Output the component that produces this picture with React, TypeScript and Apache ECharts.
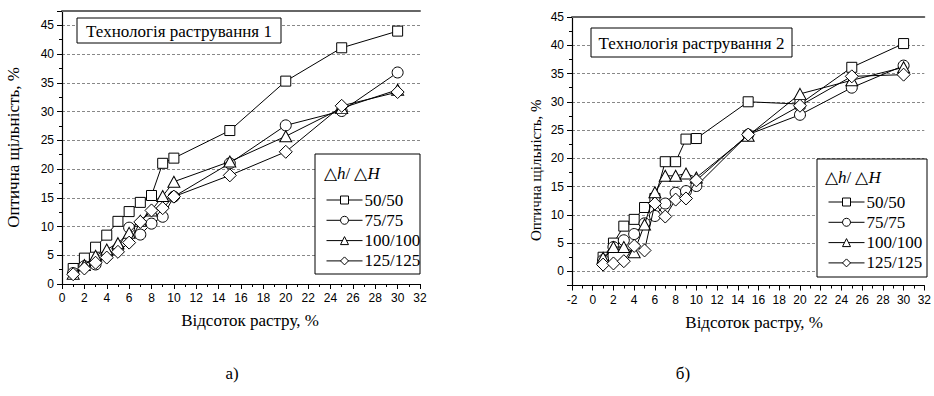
import React, { useEffect, useRef } from "react";
import * as echarts from "echarts";

const xValues = [1, 2, 3, 4, 5, 6, 7, 8, 9, 10, 15, 20, 25, 30];
const seriesNames = ["50/50", "75/75", "100/100", "125/125"];

const left50 = [2.7, 4.5, 6.4, 8.5, 10.9, 12.6, 14.2, 15.4, 21.0, 21.9, 26.7, 35.3, 41.1, 44.0];
const left75 = [1.9, 3.1, 3.4, 5.0, 6.2, 9.8, 8.6, 10.5, 11.7, 15.2, 21.0, 27.6, 30.1, 36.8];
const left100 = [1.8, 3.3, 4.9, 6.0, 7.1, 8.9, 11.0, 12.8, 15.3, 17.8, 21.3, 25.7, 30.6, 33.8];
const left125 = [1.7, 2.7, 3.7, 4.6, 5.6, 7.2, 10.8, 12.8, 13.2, 15.2, 18.9, 23.0, 31.0, 33.4];

const right50 = [2.5, 5.0, 8.0, 9.2, 11.3, 12.9, 19.4, 19.4, 23.4, 23.5, 30.0, 29.6, 36.1, 40.3];
const right75 = [2.0, 4.3, 5.5, 6.6, 8.5, 9.8, 12.0, 13.9, 14.2, 15.1, 24.2, 27.7, 32.5, 36.4];
const right100 = [2.4, 4.3, 4.3, 3.4, 8.3, 14.0, 16.9, 16.9, 17.3, 16.6, 24.0, 31.4, 33.8, 36.1];
const right125 = [1.2, 1.4, 1.8, 4.5, 3.7, 12.0, 9.7, 12.7, 12.9, 16.1, 24.2, 29.3, 34.5, 34.8];

const leftTitle = "Технологія растрування 1";
const rightTitle = "Технологія растрування 2";
const yName = "Оптична щільність, %";
const xName = "Відсоток растру, %";
const subLabels = ["а)", "б)"];

const symbols = ["rect", "circle", "triangle", "diamond"];
const symbolSizes: any[] = [10, 11, [12, 11], 13];

const SERIF = "Liberation Serif";
const SANS = "Liberation Sans";

function buildSeries(values: number[][], axisIndex: number) {
  return values.map((vals, i) => ({
    name: seriesNames[i],
    type: "line",
    xAxisIndex: axisIndex,
    yAxisIndex: axisIndex,
    data: vals.map((v, j) => [xValues[j], v]),
    symbol: symbols[i],
    symbolSize: symbolSizes[i],
    showAllSymbol: true,
    lineStyle: { color: "#000", width: 1 },
    itemStyle: { color: "#fff", borderColor: "#000", borderWidth: 1 },
    emphasis: { disabled: true },
    z: 2 + i * 0.1,
  }));
}

const axisLabelStyle = { fontFamily: SANS, fontSize: 12, color: "#000" };
const axisLine = { show: true, onZero: false, lineStyle: { color: "#000", width: 1.2 } };
const axisTick = { show: true, length: 5, lineStyle: { color: "#000", width: 1 } };
const minorTick = { show: true, splitNumber: 2, length: 3, lineStyle: { color: "#000", width: 1 } };
const dashed = { show: true, lineStyle: { color: "#888", type: [3, 2], width: 1 } };
const topLine = { show: true, onZero: false, lineStyle: { color: "#666", width: 2 } };

function legendGraphics(x: number, y: number, w: number, h: number, hx: number, hy: number) {
  return [
    {
      type: "rect",
      shape: { x, y, width: w, height: h },
      style: { fill: "#fff", stroke: "#000", lineWidth: 1 },
      z: 3,
    },
    {
      type: "text",
      x: hx,
      y: hy,
      z: 4,
      style: {
        text: "{n|△}{i|h}{n|/ △}{i|H}",
        verticalAlign: "middle",
        rich: {
          n: { fontFamily: SERIF, fontSize: 17, fill: "#000" },
          i: { fontFamily: SERIF, fontSize: 17, fontStyle: "italic", fill: "#000" },
        },
      },
    },
  ];
}

function titleGraphics(x: number, y: number, w: number, h: number, text: string) {
  return [
    {
      type: "rect",
      shape: { x, y, width: w, height: h },
      style: { fill: "#fff", stroke: "#000", lineWidth: 1 },
      z: 3,
    },
    {
      type: "text",
      x: x + w / 2,
      y: y + h / 2 + 1,
      z: 4,
      style: {
        text,
        fontFamily: SERIF,
        fontSize: 17,
        fill: "#000",
        align: "center",
        verticalAlign: "middle",
      },
    },
  ];
}

const legendCommon = {
  orient: "vertical",
  data: seriesNames,
  itemWidth: 36,
  itemHeight: 10,
  itemGap: 3.3,
  selectedMode: false,
  itemStyle: { color: "#fff", borderColor: "#000", borderWidth: 1 },
  lineStyle: { color: "#000", width: 1 },
  textStyle: { fontFamily: SERIF, fontSize: 17, lineHeight: 17, color: "#000", padding: [0, 0, 0, -3] },
  z: 5,
};

const option: any = {
  animation: false,
  backgroundColor: "#fff",
  grid: [
    { left: 62, top: 11, width: 358, height: 273 },
    { left: 572, top: 17, width: 355, height: 268.5 },
  ],
  xAxis: [
    {
      gridIndex: 0,
      type: "value",
      min: 0,
      max: 32,
      interval: 2,
      axisLine,
      axisTick,
      minorTick,
      splitLine: { show: false },
      axisLabel: { ...axisLabelStyle, margin: 8 },
      name: xName,
      nameLocation: "middle",
      nameGap: 28,
      nameTextStyle: { fontFamily: SERIF, fontSize: 17, color: "#000", padding: [0, 0, 0, 18] },
    },
    {
      gridIndex: 1,
      type: "value",
      min: -2,
      max: 32,
      interval: 2,
      axisLine,
      axisTick,
      minorTick,
      splitLine: { show: false },
      axisLabel: { ...axisLabelStyle, margin: 8 },
      name: xName,
      nameLocation: "middle",
      nameGap: 28,
      nameTextStyle: { fontFamily: SERIF, fontSize: 17, color: "#000", padding: [0, 0, 0, 12] },
    },
    {
      gridIndex: 0,
      type: "value",
      position: "top",
      min: 0,
      max: 32,
      axisLine: topLine,
      axisTick: { show: false },
      axisLabel: { show: false },
      splitLine: { show: false },
    },
    {
      gridIndex: 1,
      type: "value",
      position: "top",
      min: -2,
      max: 32,
      axisLine: topLine,
      axisTick: { show: false },
      axisLabel: { show: false },
      splitLine: { show: false },
    },
  ],
  yAxis: [
    {
      gridIndex: 0,
      type: "value",
      min: 0,
      max: 47.5,
      interval: 5,
      axisLine,
      axisTick,
      minorTick,
      splitLine: dashed,
      axisLabel: { ...axisLabelStyle, margin: 8, showMaxLabel: false },
      name: yName,
      nameLocation: "middle",
      nameGap: 40,
      nameTextStyle: { fontFamily: SERIF, fontSize: 17, color: "#000" },
    },
    {
      gridIndex: 1,
      type: "value",
      min: -2.5,
      max: 45,
      splitNumber: 10,
      axisLine,
      axisTick,
      minorTick,
      splitLine: dashed,
      axisLabel: { ...axisLabelStyle, margin: 8, showMinLabel: false },
      name: yName,
      nameLocation: "middle",
      nameGap: 29,
      nameTextStyle: { fontFamily: SERIF, fontSize: 15, color: "#000", padding: [0, 38, 0, 0] },
    },
  ],
  legend: [
    { ...legendCommon, left: 321, top: 186.5 },
    { ...legendCommon, left: 823, top: 188.5 },
  ],
  graphic: [
    ...titleGraphics(77, 18, 204, 25, leftTitle),
    ...titleGraphics(591, 28, 201, 29, rightTitle),
    ...legendGraphics(315, 154, 105, 120, 324, 173),
    ...legendGraphics(817, 159, 110, 118, 825, 177),
    {
      type: "text",
      x: 232,
      y: 373,
      style: { text: subLabels[0], fontFamily: SERIF, fontSize: 17, fill: "#000", align: "center", verticalAlign: "middle" },
    },
    {
      type: "text",
      x: 683,
      y: 373,
      style: { text: subLabels[1], fontFamily: SERIF, fontSize: 17, fill: "#000", align: "center", verticalAlign: "middle" },
    },
  ],
  series: [
    ...buildSeries([left50, left75, left100, left125], 0),
    ...buildSeries([right50, right75, right100, right125], 1),
  ],
};

export default function App() {
  const ref = useRef<HTMLDivElement>(null);
  useEffect(() => {
    const chart = echarts.init(ref.current as HTMLDivElement, null, { renderer: "svg" });
    chart.setOption(option);
    return () => chart.dispose();
  }, []);
  return (
    <div
      ref={ref}
      style={{ position: "absolute", left: 0, top: 0, width: 934, height: 396, background: "#fff" }}
    />
  );
}
